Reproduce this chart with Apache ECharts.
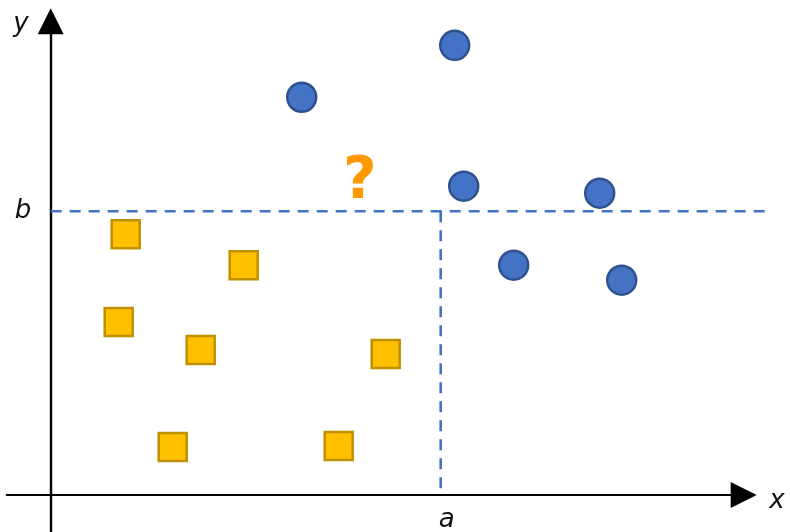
<!DOCTYPE html>
<html>
<head>
<meta charset="utf-8">
<script src="https://cdn.jsdelivr.net/npm/echarts@6/dist/echarts.min.js"></script>
<style>
html,body{margin:0;padding:0;background:#fff;}
#c{width:790px;height:532px;}
</style>
</head>
<body>
<div id="c"></div>
<script>
// ---- data ----
var circles = [[25.1,39.8],[40.4,45.0],[41.3,30.9],[54.9,30.2],[46.3,23.0],[57.1,21.5]];
var squares = [[7.5,26.1],[19.3,23.0],[6.8,17.3],[15.0,14.5],[33.5,14.1],[12.2,4.8],[28.8,4.9]];
var aValue = [39.0];
var bValue = [28.4];
var questionPoint = [[30.9,31.7]];
var hLineEnd = [71.9];
var axisNames = ['x','y','a','b'];

// ---- layout ----
var ORIGIN_X = 50.7, ORIGIN_Y = 495.3, SCALE = 10;
var xMin = -4.4, xAxisEnd = 69.3, yMin = -3.7, yMax = 47.4;
var xDataMax = hLineEnd[0];

var chart = echarts.init(document.getElementById('c'), null, {renderer:'canvas'});
var labelFont = {fontFamily:'DejaVu Sans', fontStyle:'italic', fontSize:26, fill:'#111'};
function txt(s, x, y){
  return {type:'text', x:x, y:y, style:Object.assign({text:s, align:'center', verticalAlign:'middle'}, labelFont)};
}
var a = aValue[0], b = bValue[0];
var gTop = ORIGIN_Y - yMax*SCALE, gBottom = 532 - (ORIGIN_Y - yMin*SCALE), gLeft = ORIGIN_X + xMin*SCALE;
var hidden = {show:false};
chart.setOption({
  animation:false,
  grid:[
    {left:gLeft, right:790 - (ORIGIN_X + xDataMax*SCALE), top:gTop, bottom:gBottom},
    {left:gLeft, right:790 - (ORIGIN_X + xAxisEnd*SCALE), top:gTop, bottom:gBottom}
  ],
  xAxis:[
    {gridIndex:0, type:'value', min:xMin, max:xDataMax, show:false},
    {gridIndex:1, type:'value', min:xMin, max:xAxisEnd, splitLine:hidden, axisTick:hidden, axisLabel:hidden,
      axisLine:{onZero:true, lineStyle:{color:'#000', width:2.2}, symbol:['none','triangle'], symbolSize:[26,26]}}
  ],
  yAxis:[
    {gridIndex:0, type:'value', min:yMin, max:yMax, splitLine:hidden, axisTick:hidden, axisLabel:hidden,
      axisLine:{onZero:true, lineStyle:{color:'#000', width:2.4}, symbol:['none','triangle'], symbolSize:[26,26]}},
    {gridIndex:1, type:'value', min:yMin, max:yMax, show:false}
  ],
  series:[
    {type:'line', clip:false, symbol:'none', z:1, data:[[0,b],[hLineEnd[0],b]],
      lineStyle:{color:'#4472C4', width:2.6, type:[11,8]}},
    {type:'line', clip:false, symbol:'none', z:1, data:[[a,b],[a,0]],
      lineStyle:{color:'#4472C4', width:2.6, type:[11,8]}},
    {type:'scatter', symbol:'circle', symbolSize:29, z:3, data:circles,
      itemStyle:{color:'#4472C4', borderColor:'#2F528F', borderWidth:2.5, opacity:1}},
    {type:'scatter', symbol:'rect', symbolSize:28, z:3, data:squares,
      itemStyle:{color:'#FFC000', borderColor:'#BF9000', borderWidth:2.5, opacity:1}},
    {type:'scatter', symbol:'circle', symbolSize:1, z:4, data:questionPoint,
      itemStyle:{color:'rgba(0,0,0,0)'},
      label:{show:true, position:'inside', offset:[0,5], formatter:'?', color:'#FF9900', textBorderWidth:0, opacity:1,
        fontFamily:'DejaVu Sans', fontWeight:'bold', fontSize:58}}
  ],
  graphic:[
    txt(axisNames[0], 777, 501.5),
    txt(axisNames[1], 21, 24),
    txt(axisNames[2], 446.7, 520.5),
    txt(axisNames[3], 23, 211.5)
  ]
});
</script>
</body>
</html>
